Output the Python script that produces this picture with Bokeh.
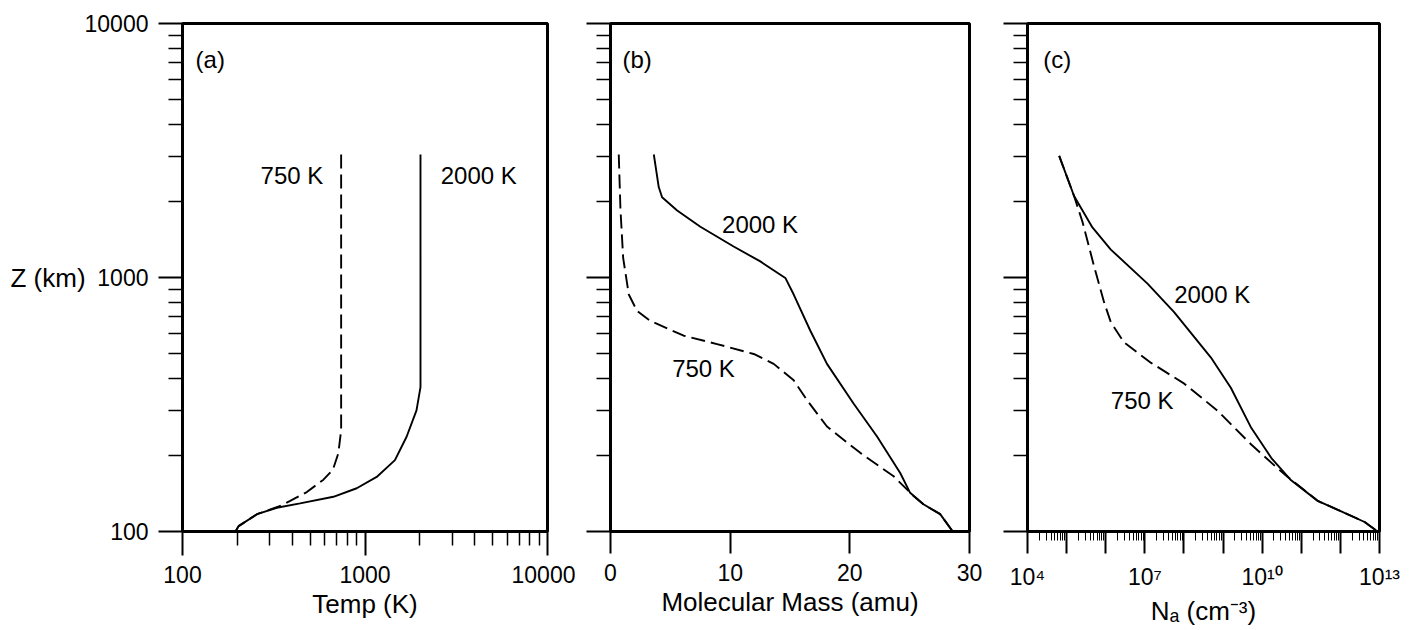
import json
from bokeh.plotting import figure
from bokeh.models import Range1d, FixedTicker, CustomJSTickFormatter, Label
from bokeh.layouts import row
from bokeh.embed import file_html
from bokeh.resources import INLINE

# ---------------- data ----------------
# Panel (a): temperature profiles
temp_2000 = [2014, 2014, 1915, 1690, 1459, 1159, 901, 671, 441, 329, 256, 203, 195]
z_temp_2000 = [3050, 370, 300, 236, 191, 164, 148, 137, 129, 124, 117, 105, 100]
temp_750 = [740, 740, 714, 667, 592, 480, 389, 343, 256, 203, 195]
z_temp_750 = [3050, 250, 203, 175, 160, 143, 132, 126, 117, 105, 100]

# Panel (b): molecular mass profiles
mass_2000 = [3.62, 4.03, 4.31, 5.57, 7.51, 10.29, 12.52, 14.61, 15.31, 16.7, 18.09, 20.31, 22.26, 24.21, 25.04, 26.15, 27.55, 28.6]
z_mass_2000 = [3050, 2270, 2070, 1837, 1584, 1324, 1157, 996, 857, 617, 457, 319, 237, 170, 142, 128, 117, 100]
mass_750 = [0.69, 0.83, 1.06, 1.53, 2.22, 3.34, 6.12, 8.9, 11.97, 13.64, 15.31, 16.42, 18.09, 20.87, 23.66, 25.32, 26.15, 27.55, 28.6]
z_mass_750 = [3050, 1866, 1191, 857, 738, 674, 590, 547, 500, 457, 394, 329, 259, 204, 165, 138, 128, 117, 100]

# Panel (c): number density profiles
na_2000 = [6.46e4, 1.55e5, 4.57e5, 1.35e6, 1.17e7, 5.6e7, 4.9e8, 1.58e9, 5.25e9, 1.7e10, 5.5e10, 2.63e11, 1.05e12, 4.17e12, 8.9e12]
z_na_2000 = [3013, 2094, 1574, 1288, 946, 730, 484, 368, 256, 195, 159, 132, 120, 109, 100]
na_750 = [6.46e4, 1.55e5, 2.57e5, 5.0e5, 9.1e5, 1.35e6, 2.95e6, 1.45e7, 1.02e8, 7.2e8, 5.25e9, 2.5e10, 4.5e10, 2.63e11, 1.05e12, 4.17e12, 8.9e12]
z_na_750 = [3013, 2094, 1648, 1112, 798, 667, 555, 461, 382, 299, 220, 177, 164, 132, 120, 109, 100]

# ticks and labels
z_ticks = [100, 1000, 10000]
z_tick_labels = ["100", "1000", "10000"]
temp_ticks = [100, 1000, 10000]
temp_tick_labels = ["100", "1000", "10000"]
mass_ticks = [0, 10, 20, 30]
mass_tick_labels = ["0", "10", "20", "30"]
na_decades = [1e4, 1e5, 1e6, 1e7, 1e8, 1e9, 1e10, 1e11, 1e12, 1e13]
na_label_ticks = [1e4, 1e7, 1e10, 1e13]
na_tick_labels = ["10\u2074", "10\u2077", "10\u00b9\u2070", "10\u00b9\u00b3"]

panel_tags = ["(a)", "(b)", "(c)"]
series_names = ["2000 K", "750 K"]

FONT = "Liberation Sans"
H = 628
TOP = 23
FRAME_H = 511


def log_minors(lo_exp, hi_exp):
    out = []
    for e in range(lo_exp, hi_exp):
        for m in range(2, 10):
            out.append(m * 10 ** e)
    return out


def js_formatter(values, labels):
    mapping = {str(int(v)): l for v, l in zip(values, labels)}
    code = "const m = %s; const k = String(tick); return (k in m) ? m[k] : '';" % json.dumps(mapping)
    return CustomJSTickFormatter(code=code)


def style_axis(ax, tick_out=24, minor_out=14):
    ax.axis_line_width = 3
    ax.axis_line_color = "black"
    ax.major_tick_in = 0
    ax.minor_tick_in = 0
    ax.major_tick_out = tick_out
    ax.minor_tick_out = minor_out
    ax.major_tick_line_width = 2
    ax.minor_tick_line_width = 1.5
    ax.major_tick_line_color = "black"
    ax.minor_tick_line_color = "black"
    ax.major_label_text_font = FONT
    ax.major_label_text_font_size = "23px"
    ax.major_label_text_color = "black"
    ax.axis_label_text_font = FONT
    ax.axis_label_text_font_size = "26px"
    ax.axis_label_text_font_style = "normal"
    ax.axis_label_text_color = "black"


def make_fig(width, x_type, x_range, left, right):
    p = figure(width=width, height=H, x_axis_type=x_type, y_axis_type="log",
               x_range=x_range, y_range=Range1d(100, 10000),
               output_backend="svg", toolbar_location=None,
               min_border_left=left, min_border_right=right,
               min_border_top=TOP, min_border_bottom=H - TOP - FRAME_H)
    p.grid.visible = False
    p.outline_line_color = "black"
    p.outline_line_width = 3
    p.outline_line_alpha = 1.0
    p.background_fill_color = "white"
    p.border_fill_color = "white"
    y = p.yaxis[0]
    y.ticker = FixedTicker(ticks=z_ticks, minor_ticks=log_minors(2, 4))
    style_axis(y)
    x = p.xaxis[0]
    style_axis(x)
    x.major_label_standoff = 10
    x.axis_label_standoff = 3
    return p


def add_text(p, x, y, text, align="left"):
    p.add_layout(Label(x=x, y=y, text=text, text_font=FONT, text_font_size="24px",
                       text_color="black", text_align=align, text_baseline="middle"))


# ---------------- panel (a) ----------------
pa = make_fig(575, "log", Range1d(100, 10000), 182, 28)
pa.yaxis[0].formatter = js_formatter(z_ticks, z_tick_labels)
pa.yaxis[0].axis_label = "Z (km)"
pa.yaxis[0].axis_label_orientation = "horizontal"
pa.yaxis[0].major_label_standoff = 10
pa.yaxis[0].axis_label_standoff = -4
pa.xaxis[0].ticker = FixedTicker(ticks=temp_ticks, minor_ticks=log_minors(2, 4))
pa.xaxis[0].formatter = js_formatter(temp_ticks, temp_tick_labels)
pa.xaxis[0].axis_label = "Temp (K)"
pa.line(temp_2000, z_temp_2000, line_color="black", line_width=1.9)
pa.line(temp_750, z_temp_750, line_color="black", line_width=1.9, line_dash="14 6")
add_text(pa, 118, 7200, panel_tags[0])
add_text(pa, 591, 2520, series_names[1], align="right")
add_text(pa, 2600, 2520, series_names[0])

# ---------------- panel (b) ----------------
pb = make_fig(414, "linear", Range1d(0, 30), 35, 20)
pb.yaxis[0].formatter = js_formatter([], [])
pb.yaxis[0].major_label_standoff = 0
pb.xaxis[0].ticker = FixedTicker(ticks=mass_ticks, minor_ticks=[])
pb.xaxis[0].formatter = js_formatter(mass_ticks, mass_tick_labels)
pb.xaxis[0].axis_label = "Molecular Mass (amu)"
pb.xaxis[0].major_tick_out = 22
pb.line(mass_2000, z_mass_2000, line_color="black", line_width=1.9)
pb.line(mass_750, z_mass_750, line_color="black", line_width=1.9, line_dash="14 6")
add_text(pb, 1.0, 7200, panel_tags[1])
add_text(pb, 9.32, 1617, series_names[0])
add_text(pb, 5.15, 438, series_names[1])

# ---------------- panel (c) ----------------
pc = make_fig(425, "log", Range1d(1e4, 1e13), 38, 35)
pc.yaxis[0].formatter = js_formatter([], [])
pc.yaxis[0].major_label_standoff = 0
pc.xaxis[0].ticker = FixedTicker(ticks=na_decades, minor_ticks=log_minors(4, 13))
pc.xaxis[0].formatter = js_formatter(na_label_ticks, na_tick_labels)
pc.xaxis[0].axis_label = "N\u2090 (cm\u207b\u00b3)"
pc.xaxis[0].major_tick_out = 22
pc.xaxis[0].minor_tick_out = 9
pc.xaxis[0].minor_tick_line_width = 1
pc.line(na_2000, z_na_2000, line_color="black", line_width=1.9)
pc.line(na_750, z_na_750, line_color="black", line_width=1.9, line_dash="14 6")
add_text(pc, 10 ** 4.4, 7200, panel_tags[2])
add_text(pc, 10 ** 7.75, 860, series_names[0])
add_text(pc, 10 ** 6.13, 329, series_names[1])

p = row(pa, pb, pc)
open("out.html", "w").write(file_html(p, INLINE))
